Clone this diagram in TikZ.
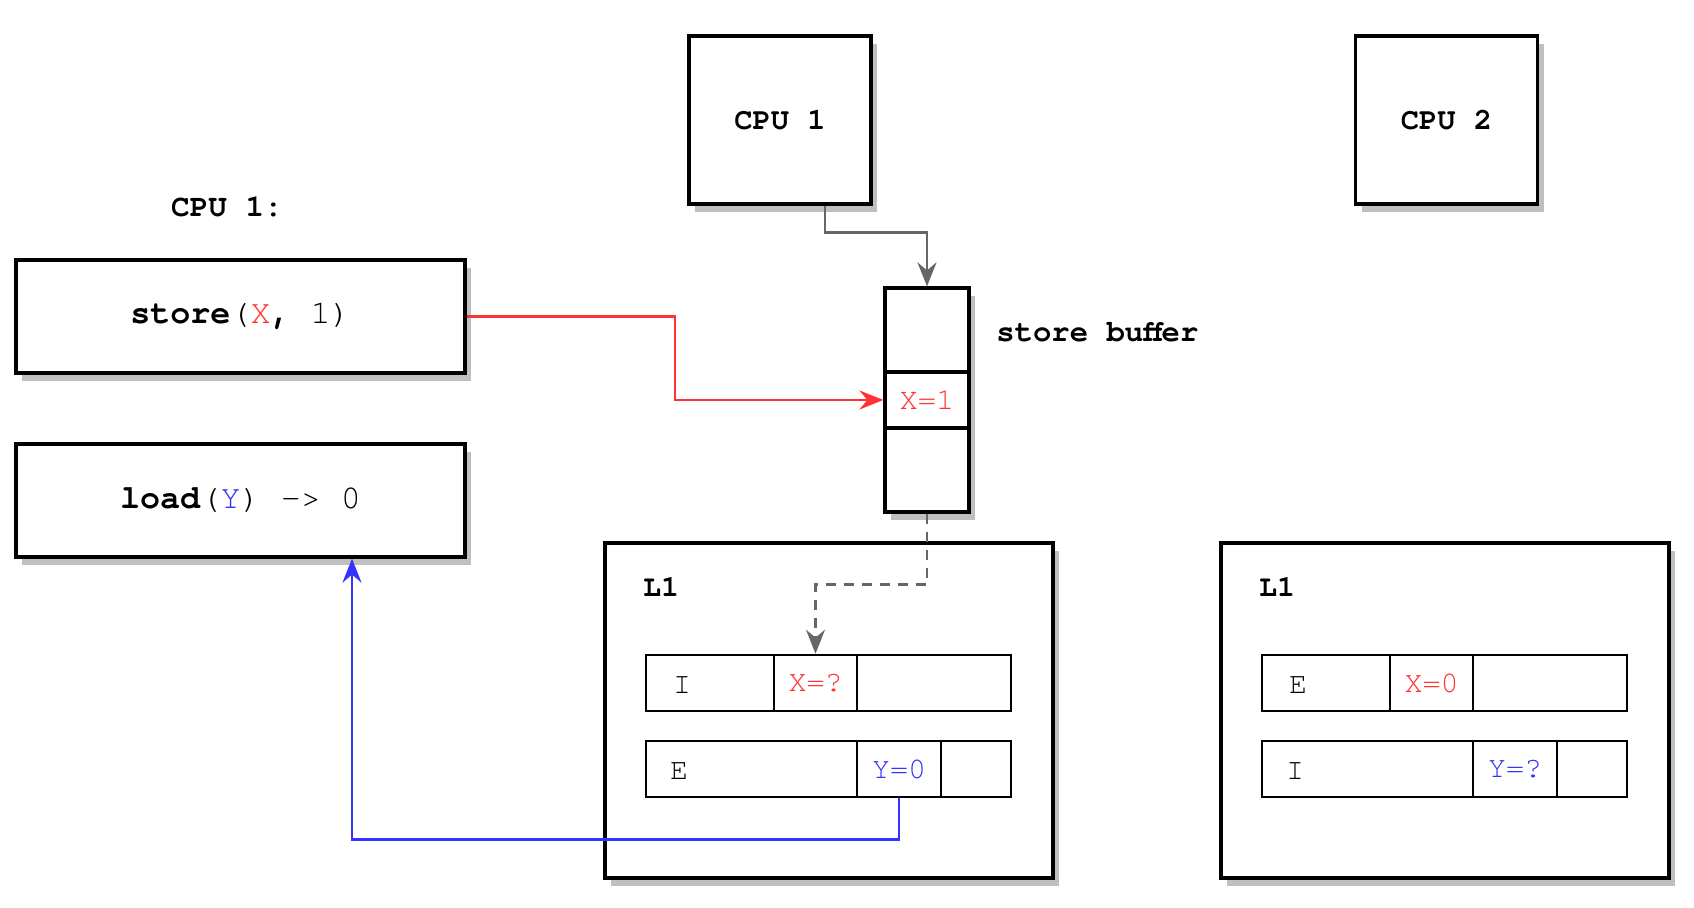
\documentclass[tikz,border=0pt]{standalone}
\usepackage{fontspec}
\newfontfamily\cour{texgyrecursor}[Extension=.otf, UprightFont=*-regular, BoldFont=*-bold]
\usetikzlibrary{shadows,arrows.meta,calc}
\definecolor{myred}{HTML}{FF3333}
\definecolor{myblue}{HTML}{3333FF}
\definecolor{mygray}{HTML}{666666}
\definecolor{shadowgray}{HTML}{BFBFBF}
\tikzset{
  shadowed/.style={drop shadow={shadow xshift=3pt, shadow yshift=-4pt, fill=shadowgray, opacity=1}},
  box/.style={draw=black, line width=1.6pt, fill=white, shadowed, rectangle, inner sep=0pt, font=\cour\fontsize{16.7}{18}\selectfont},
  cpubox/.style={box, minimum width=91pt, minimum height=84pt, font=\cour\bfseries\fontsize{15.2}{17}\selectfont},
  sbcell/.style={box, minimum width=42pt, font=\cour\fontsize{15.2}{17}\selectfont},
  cell/.style={draw=black, line width=1.3pt, fill=white, rectangle, inner sep=0pt, minimum height=28pt, font=\cour\fontsize{15}{17}\selectfont},
  lbl/.style={font=\cour\bfseries\fontsize{15}{17}\selectfont, inner sep=0pt},
  letter/.style={font=\cour\fontsize{15}{17}\selectfont, inner sep=0pt},
  wire/.style={line width=1.25pt, -{Stealth[length=12pt,width=9.5pt,inset=4pt]}},
}
\begin{document}
\begin{tikzpicture}[x=0.5pt, y=-0.5pt]
\useasboundingbox (0,0) rectangle (1694,908);

% left program
\node[lbl, font=\cour\bfseries\fontsize{15.5}{17}\selectfont] (cpulab) at (227,207) {CPU 1:};
\node[box, minimum width=224.5pt, minimum height=56.5pt] (store) at (240.5,316.5)
  {\raisebox{-3.5pt}{\textbf{store}(\textcolor{myred}{X}\textbf{,} 1)}};
\node[box, minimum width=224.5pt, minimum height=56.5pt] (load) at (240.5,500.5)
  {\raisebox{-3.5pt}{\textbf{load}(\textcolor{myblue}{Y}) -> 0}};

% CPUs
\node[cpubox] (cpu1) at (780,120) {CPU 1};
\node[cpubox] (cpu2) at (1446.5,120) {CPU 2};

% store buffer
\node[sbcell, minimum height=42pt] (sbA) at (927,330) {};
\node[sbcell, minimum height=28pt, text=myred] (sbB) at (927,400) {X=1};
\node[sbcell, minimum height=42pt] (sbC) at (927,470) {};
\node[lbl, font=\cour\bfseries\fontsize{15.3}{17}\selectfont, anchor=west] (sblab) at (996,332) {store buffer};

% L1 of CPU 1
\node[box, minimum width=224pt, minimum height=167.5pt] (l1a) at (829,710.5) {};
\node[lbl] (l1alab) at (661,587) {L1};
\node[cell, minimum width=64pt] (a11) at (710,683) {};
\node[cell, minimum width=41.5pt, text=myred] (xq) at (815.5,683) {X=?};
\node[cell, minimum width=77pt] (a13) at (934,683) {};
\node[cell, minimum width=105.5pt] (a21) at (751.5,769) {};
\node[cell, minimum width=42pt, text=myblue] (y0) at (899,769) {Y=0};
\node[cell, minimum width=35pt] (a23) at (976,769) {};
\node[letter] (a1t) at (682,685) {I};
\node[letter] (a2t) at (679,771) {E};

% L1 of CPU 2
\node[box, minimum width=224pt, minimum height=167.5pt] (l1b) at (1445,710.5) {};
\node[lbl] (l1blab) at (1277,587) {L1};
\node[cell, minimum width=64pt] (b11) at (1326,683) {};
\node[cell, minimum width=41.5pt, text=myred] (x0) at (1431.5,683) {X=0};
\node[cell, minimum width=77pt] (b13) at (1550,683) {};
\node[cell, minimum width=105.5pt] (b21) at (1367.5,769) {};
\node[cell, minimum width=42pt, text=myblue] (yq) at (1515,769) {Y=?};
\node[cell, minimum width=35pt] (b23) at (1592,769) {};
\node[letter] (b1t) at (1298,685) {E};
\node[letter] (b2t) at (1295,771) {I};

% connectors
\draw[wire, mygray] ([xshift=22.5pt]cpu1.south) -- ++(0,27) -| (sbA.north);
\draw[wire, myred] (store.east) -| ($(store.east)!.5!(sbB.west)$) |- (sbB.west);
\draw[wire, mygray, dashed, dash pattern=on 5pt off 4pt] (sbC.south) -- ++(0,71) -| (xq.north);
\draw[wire, myblue] (y0.south) -- ++(0,41) -| ([xshift=55.75pt]load.south);
\end{tikzpicture}
\end{document}
